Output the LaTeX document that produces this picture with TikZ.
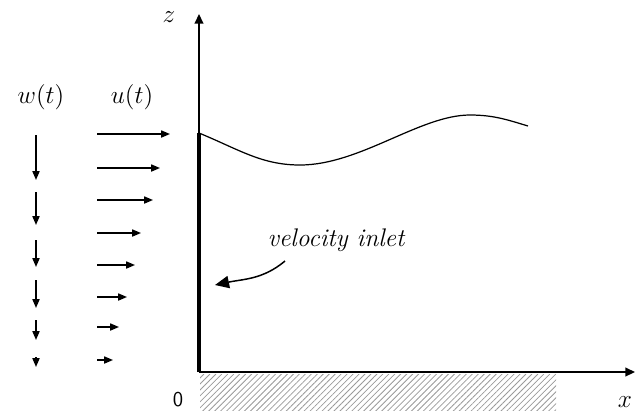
\documentclass[tikz,border=0pt]{standalone}
\usepackage{tikz}
\usetikzlibrary{arrows.meta,patterns.meta,positioning,calc}

\begin{document}
\begin{tikzpicture}[x=0.02cm, y=-0.02cm,
  vel/.style={-{Triangle[length=5pt,width=4pt]}, line width=0.85pt},
  ax/.style={-{Triangle[length=5.5pt,width=5pt]}, line width=0.85pt},
  lbl/.style={inner sep=0pt, font=\fontsize{14}{16}\selectfont}]
\useasboundingbox (0,0) rectangle (635,417);
% ground
\fill[pattern={Lines[angle=45,distance=2.4pt,line width=0.45pt]}, pattern color=gray!80]
  (200,374) rectangle (556,410);
% axes and inlet wall
\coordinate (O) at (199,372);
\coordinate (ztip) at (199,14);
\coordinate (xtip) at (635,372);
\coordinate (wtop) at (199,133);
\draw[ax] (O) -- (ztip);
\draw[ax] (O) -- (xtip);
\draw[line width=2.4pt] (O) -- (wtop);
% free surface
\draw[line width=0.7pt] (wtop) .. controls (240,150) and (262,165) .. (300,165)
  .. controls (360,165) and (420,115) .. (470,115)
  .. controls (494,115) and (508,120) .. (528,126);
% labels
\node[lbl] (zlbl) at (169,17) {$z$};
\node[lbl] (xlbl) at (625,402) {$x$};
\node[lbl, font=\sffamily\fontsize{12}{14}\selectfont] (orig) at (178,400) {0};
\node[lbl] (wlbl) at (41,97) {$w(t)$};
\node[lbl] (ulbl) at (132,97) {$u(t)$};
\node[lbl, font=\itshape\fontsize{14.5}{16}\selectfont] (inlet) at (336,240) {velocity inlet};
% velocity profiles
\foreach \y/\e in {134/170,168/160,200/153,233/141,265/135,297/127,327/119,360/113}
  \draw[vel] (97,\y) -- (\e,\y);
\foreach \a/\b in {135/180,192/225,240/267,280/308,320/340,357/367}
  \draw[vel] (36,\a) -- (36,\b);
% pointer to inlet
\coordinate (tail) at (285,261);
\coordinate (head) at (215,285);
\draw[-{Triangle[length=8pt,width=7pt]}, line width=0.85pt] (tail) to[out=-140,in=12] (head);
\end{tikzpicture}
\end{document}
